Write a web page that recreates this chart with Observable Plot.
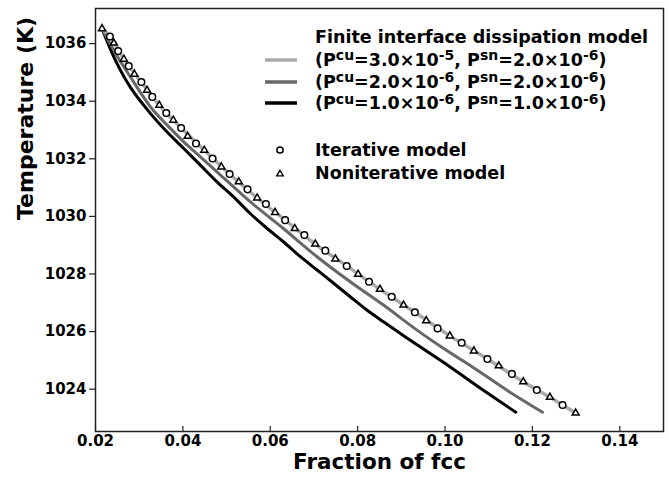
<!DOCTYPE html>
<html><head><meta charset="utf-8">
<script src="https://cdn.jsdelivr.net/npm/d3@7"></script>
<script src="https://cdn.jsdelivr.net/npm/@observablehq/plot@0.6"></script>
<style>
body{margin:0;background:#fff;}
#wrap{position:relative;width:669px;height:478px;font-family:"DejaVu Sans",sans-serif;font-weight:bold;}
#wrap svg text{font-weight:bold;}
.row{position:absolute;left:265px;height:22px;line-height:22px;white-space:nowrap;font-size:17.5px;color:#000;}
.row .sym{position:absolute;left:0;top:0;width:32px;height:22px;}
.row .t{position:absolute;left:50px;top:0;}
.row sup{font-size:0.8em;position:relative;top:-0.38em;vertical-align:baseline;line-height:0;}
</style></head><body><div id="wrap"></div>
<script>
// axis ticks
const xTicks = [0.02, 0.04, 0.06, 0.08, 0.10, 0.12, 0.14];
const yTicks = [1024, 1026, 1028, 1030, 1032, 1034, 1036];
const xLabel = "Fraction of fcc";
const yLabel = "Temperature (K)";

// Finite interface dissipation model, Pcu=3.0e-5, Psn=2.0e-6 (light gray)
const fid1F = [0.0215,0.0233,0.0265,0.0305,0.0346,0.0396,0.0449,0.0507,0.0570,0.0634,0.0703,0.0775,0.0851,0.0931,0.1011,0.1097,0.1179,0.1240,0.1299];
const fid1T = [1036.52,1036.25,1035.46,1034.67,1033.86,1033.07,1032.30,1031.47,1030.64,1029.87,1029.04,1028.28,1027.47,1026.67,1025.85,1025.05,1024.26,1023.72,1023.17];
// Pcu=2.0e-6, Psn=2.0e-6 (mid gray)
const fid2F = [0.0215,0.0246,0.0280,0.0326,0.0364,0.0402,0.0440,0.0478,0.0554,0.0630,0.0707,0.0783,0.0859,0.0935,0.0996,0.1062,0.1142,0.1223];
const fid2T = [1036.52,1035.66,1034.84,1033.80,1033.17,1032.59,1032.07,1031.55,1030.51,1029.58,1028.60,1027.73,1026.92,1026.06,1025.42,1024.78,1023.96,1023.20];
// Pcu=1.0e-6, Psn=1.0e-6 (black)
const fid3F = [0.0215,0.0246,0.0280,0.0326,0.0364,0.0402,0.0440,0.0478,0.0516,0.0554,0.0593,0.0630,0.0669,0.0707,0.0745,0.0783,0.0821,0.0859,0.0897,0.0935,0.1011,0.1087,0.1162];
const fid3T = [1036.52,1035.41,1034.48,1033.57,1032.93,1032.36,1031.78,1031.20,1030.68,1030.10,1029.58,1029.12,1028.60,1028.14,1027.68,1027.21,1026.75,1026.34,1025.94,1025.55,1024.78,1023.97,1023.20];
// Iterative model (circles)
const iterF = [0.0233,0.0252,0.0276,0.0305,0.0330,0.0362,0.0396,0.0430,0.0468,0.0507,0.0548,0.0590,0.0634,0.0678,0.0726,0.0775,0.0826,0.0878,0.0931,0.0983,0.1038,0.1097,0.1153,0.1210,0.1269];
const iterT = [1036.25,1035.74,1035.22,1034.67,1034.15,1033.59,1033.07,1032.53,1032.01,1031.47,1030.94,1030.43,1029.87,1029.35,1028.81,1028.28,1027.73,1027.21,1026.67,1026.11,1025.61,1025.05,1024.53,1023.97,1023.45];
// Noniterative model (triangles)
const nonF = [0.0215,0.0242,0.0265,0.0289,0.0318,0.0346,0.0378,0.0411,0.0449,0.0488,0.0528,0.0570,0.0611,0.0656,0.0703,0.0749,0.0801,0.0851,0.0905,0.0957,0.1011,0.1066,0.1123,0.1179,0.1240,0.1299];
const nonT = [1036.52,1036.02,1035.46,1034.94,1034.38,1033.86,1033.34,1032.78,1032.30,1031.72,1031.20,1030.64,1030.14,1029.58,1029.04,1028.52,1027.99,1027.47,1026.92,1026.38,1025.85,1025.33,1024.81,1024.26,1023.72,1023.17];

const legendTitle = "Finite interface dissipation model";
const lineLabels = [
  ["3.0","-5","2.0","-6"],
  ["2.0","-6","2.0","-6"],
  ["1.0","-6","1.0","-6"]
];
const lineColors = ["#a9a9a9", "#676767", "#000000"];
const markerLabels = ["Iterative model", "Noniterative model"];

const zip = (F, T) => F.map((f, i) => ({f, t: T[i]}));

const plot = Plot.plot({
  width: 669, height: 478,
  marginLeft: 95, marginRight: 6, marginTop: 8, marginBottom: 47,
  style: {fontFamily: "DejaVu Sans", background: "white", color: "black"},
  x: {domain: [0.02, 0.15]},
  y: {domain: [1022.53, 1037.22]},
  marks: [
    Plot.line(zip(fid3F, fid3T), {x: "f", y: "t", stroke: lineColors[2], strokeWidth: 3, curve: "catmull-rom"}),
    Plot.line(zip(fid2F, fid2T), {x: "f", y: "t", stroke: lineColors[1], strokeWidth: 3, curve: "catmull-rom"}),
    Plot.line(zip(fid1F, fid1T), {x: "f", y: "t", stroke: lineColors[0], strokeWidth: 3.5, curve: "catmull-rom"}),
    Plot.dot(zip(nonF, nonT), {x: "f", y: "t", symbol: "triangle", r: 2.6, stroke: "black", strokeWidth: 1.5, fill: "white"}),
    Plot.dot(zip(iterF, iterT), {x: "f", y: "t", symbol: "circle", r: 3.3, stroke: "black", strokeWidth: 1.5, fill: "white"}),
    Plot.frame({stroke: "#222", strokeWidth: 1.5}),
    Plot.axisY({ticks: yTicks, tickSize: 6, tickPadding: 3, tickFormat: d => String(d), fontSize: 15, label: null, stroke: "#222", strokeWidth: 1.2}),
    Plot.axisX({ticks: xTicks, tickSize: 0, tickPadding: 4, tickFormat: d => d.toFixed(2), fontSize: 15, label: null}),
    Plot.tickX(xTicks, {x: d => d, insetTop: 418, stroke: "#222", strokeWidth: 1.2}),
    Plot.text([yLabel], {text: d => d, frameAnchor: "left", dx: -70, rotate: -90, fontSize: 22, fill: "black"}),
    Plot.text([xLabel], {text: d => d, frameAnchor: "bottom", dy: 37, fontSize: 21.5, fill: "black"})
  ]
});
const wrap = document.getElementById("wrap");
wrap.appendChild(plot);

// legend
function addRow(top, symHtml, textHtml) {
  const r = document.createElement("div");
  r.className = "row";
  r.style.top = top + "px";
  r.innerHTML = `<span class="sym">${symHtml}</span><span class="t">${textHtml}</span>`;
  wrap.appendChild(r);
}
addRow(25.5, "", legendTitle);
const lineTops = [48.5, 70.5, 92];
lineLabels.forEach((l, i) => {
  const sym = `<svg width="32" height="22"><line x1="0" x2="32" y1="11" y2="11" stroke="${lineColors[i]}" stroke-width="3.5"/></svg>`;
  const txt = `(P<sup>cu</sup>=${l[0]}×10<sup>${l[1]}</sup>, P<sup>sn</sup>=${l[2]}×10<sup>${l[3]}</sup>)`;
  addRow(lineTops[i], sym, txt);
});
addRow(139, `<svg width="32" height="22"><circle cx="15" cy="11" r="3.1" fill="white" stroke="black" stroke-width="1.5"/></svg>`, markerLabels[0]);
addRow(161.5, `<svg width="32" height="22"><path transform="translate(15,12)" d="${d3.symbol(d3.symbolTriangle, Math.PI*2.4*2.4)()}" fill="white" stroke="black" stroke-width="1.4"/></svg>`, markerLabels[1]);
</script>
</body></html>
